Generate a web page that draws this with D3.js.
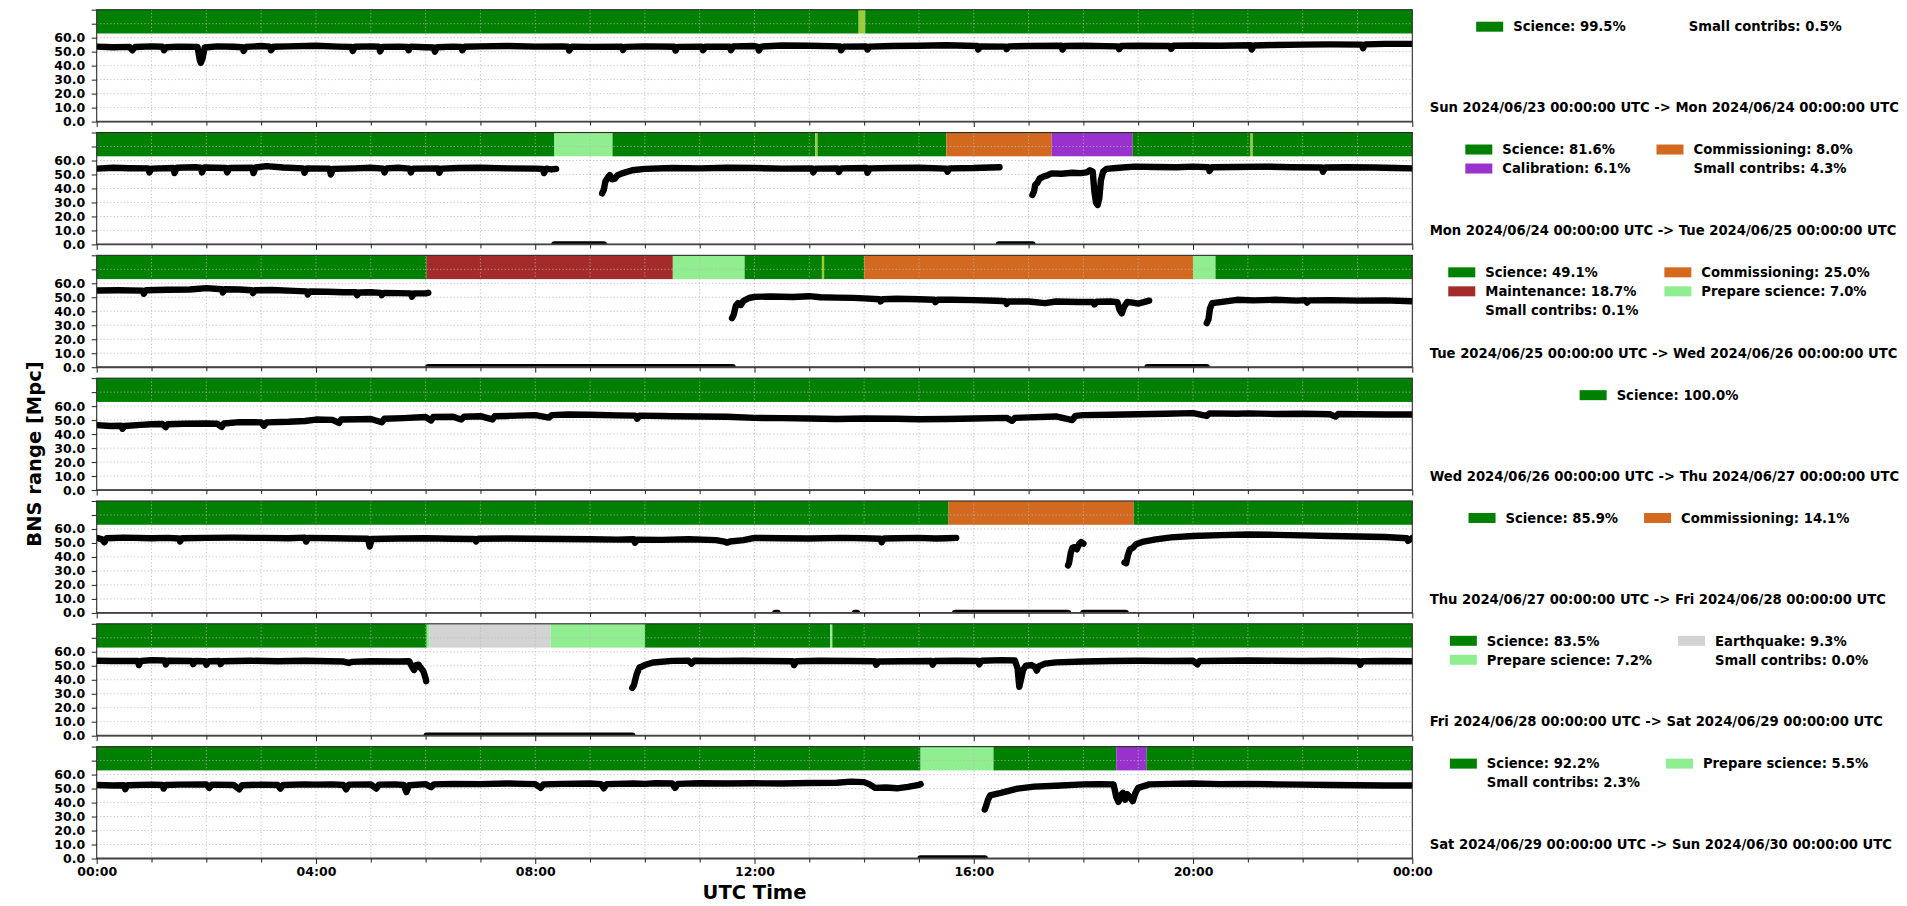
<!DOCTYPE html>
<html>
<head>
<meta charset="utf-8">
<script src="https://cdn.jsdelivr.net/npm/d3@7"></script>
<style>
  html, body { margin: 0; padding: 0; background: #fff; }
  svg text { font-family: "DejaVu Sans", sans-serif; font-weight: bold; fill: #000; }
</style>
</head>
<body>
<svg id="chart" width="1907" height="906"></svg>
<script>
// ---- Day labels -------------------------------------------------------------
const dayLabels = [
  "Sun 2024/06/23 00:00:00 UTC -> Mon 2024/06/24 00:00:00 UTC",
  "Mon 2024/06/24 00:00:00 UTC -> Tue 2024/06/25 00:00:00 UTC",
  "Tue 2024/06/25 00:00:00 UTC -> Wed 2024/06/26 00:00:00 UTC",
  "Wed 2024/06/26 00:00:00 UTC -> Thu 2024/06/27 00:00:00 UTC",
  "Thu 2024/06/27 00:00:00 UTC -> Fri 2024/06/28 00:00:00 UTC",
  "Fri 2024/06/28 00:00:00 UTC -> Sat 2024/06/29 00:00:00 UTC",
  "Sat 2024/06/29 00:00:00 UTC -> Sun 2024/06/30 00:00:00 UTC"
];

// ---- Axis ticks -------------------------------------------------------------
const yTicks = [0, 10, 20, 30, 40, 50, 60, 70, 80];
const yTickLabels = ["0.0", "10.0", "20.0", "30.0", "40.0", "50.0", "60.0", "", ""];
const xTickHours = d3.range(0, 25, 1);
const xTickLabels = ["00:00", "04:00", "08:00", "12:00", "16:00", "20:00", "00:00"];

// ---- Observing states -------------------------------------------------------
const stateNames  = ["Science", "Commissioning", "Calibration", "Maintenance", "Prepare science", "Earthquake", "Small"];
const stateColors = ["#008000", "#d2691e", "#9932cc", "#a52a2a", "#90ee90", "#d3d3d3", "#9acd32"];

// state segments per day: [start hour, end hour, state]
const states_d1 = [[0,13.9,"Science"],[13.9,14.02,"Small"],[14.02,24,"Science"]];
const states_d2 = [[0,8.35,"Science"],[8.35,9.41,"Prepare science"],[9.41,13.11,"Science"],[13.11,13.15,"Small"],
  [13.15,15.5,"Science"],[15.5,17.42,"Commissioning"],[17.42,18.9,"Calibration"],[18.9,21.05,"Science"],
  [21.05,21.09,"Small"],[21.09,24,"Science"]];
const states_d3 = [[0,6.02,"Science"],[6.02,10.51,"Maintenance"],[10.51,11.82,"Prepare science"],[11.82,13.23,"Science"],
  [13.23,13.27,"Small"],[13.27,14.0,"Science"],[14.0,20.0,"Commissioning"],[20.0,20.41,"Prepare science"],[20.41,24,"Science"]];
const states_d4 = [[0,24,"Science"]];
const states_d5 = [[0,15.54,"Science"],[15.54,18.92,"Commissioning"],[18.92,24,"Science"]];
const states_d6 = [[0,6.02,"Science"],[6.02,6.07,"Prepare science"],[6.07,8.28,"Earthquake"],[8.28,10.0,"Prepare science"],
  [10.0,13.38,"Science"],[13.38,13.42,"Prepare science"],[13.42,24,"Science"]];
const states_d7 = [[0,15.03,"Science"],[15.03,16.36,"Prepare science"],[16.36,18.6,"Science"],[18.6,19.15,"Calibration"],[19.15,24,"Science"]];

// ---- Legend entries per day: [label, percent, state or null] ----------------
const legend_d1 = [["Science",99.5,"Science"],["Small contribs",0.5,null]];
const legend_d2 = [["Science",81.6,"Science"],["Commissioning",8.0,"Commissioning"],["Calibration",6.1,"Calibration"],["Small contribs",4.3,null]];
const legend_d3 = [["Science",49.1,"Science"],["Commissioning",25.0,"Commissioning"],["Maintenance",18.7,"Maintenance"],["Prepare science",7.0,"Prepare science"],["Small contribs",0.1,null]];
const legend_d4 = [["Science",100.0,"Science"]];
const legend_d5 = [["Science",85.9,"Science"],["Commissioning",14.1,"Commissioning"]];
const legend_d6 = [["Science",83.5,"Science"],["Earthquake",9.3,"Earthquake"],["Prepare science",7.2,"Prepare science"],["Small contribs",0.0,null]];
const legend_d7 = [["Science",92.2,"Science"],["Prepare science",5.5,"Prepare science"],["Small contribs",2.3,null]];

// ---- BNS range [Mpc] per day: list of contiguous segments of [hour, value] --
const range_d1 = [
  [[0,53.6],[0.3,53.2],[0.6,53.4],[0.65,51],[0.7,53.3],[1.0,53.8],[1.2,53.5],[1.23,51],[1.27,53.2],[1.5,53.6],[1.84,53.4],[1.88,44],[1.9,42],[1.93,45],[1.97,53],
   [2.2,53.8],[2.5,53.5],[2.66,53.2],[2.68,50.5],[2.72,53.4],[3.0,54],[3.16,53.6],[3.18,51],[3.22,53.5],[3.5,53.8],[4.0,54.2],[4.4,53.6],[4.65,53.4],[4.67,50.5],[4.71,53.5],
   [5.0,53.8],[5.15,53.6],[5.17,50.2],[5.21,53.4],[5.5,53.6],[5.67,53.4],[5.69,51],[5.73,53.6],[6.0,53.2],[6.15,53],[6.17,50],[6.21,53.2],[6.5,53.6],[6.65,53.4],[6.67,51],[6.71,53.5],
   [7.0,53.8],[7.5,54],[8.0,53.6],[8.5,53.8],[8.6,53.6],[8.62,50.8],[8.66,53.6],[9.0,53.4],[9.58,53.5],[9.6,51.2],[9.64,53.4],[10.0,53.8],[10.54,53.5],[10.56,50.8],[10.6,53.4],
   [11.04,53.6],[11.06,51],[11.1,53.5],[11.55,53.6],[11.57,51],[11.61,53.8],[12.0,54],[12.06,53.4],[12.08,50.8],[12.12,53.6],[12.5,54.4],[13.0,54.2],[13.56,53.8],[13.58,51],[13.62,53.6],
   [14.04,53.8],[14.06,51.5],[14.1,53.6],[14.5,54],[15.0,54.2],[15.5,54.6],[16.06,54],[16.08,51.5],[16.12,53.8],[16.58,53.6],[16.6,51.8],[16.64,53.8],[17.0,54],[17.6,54.2],[17.62,51.5],[17.66,54],
   [18.0,54.2],[18.63,53.8],[18.65,51.8],[18.69,54],[19.0,54.2],[19.58,54],[19.6,52],[19.64,54.2],[20.0,54.4],[20.5,54.2],[21.05,54.6],[21.07,51.5],[21.11,54.4],[21.5,54.8],[22.0,55],
   [22.5,55.2],[23.08,55],[23.1,52.5],[23.14,55.2],[23.5,55.6],[24,55.6]]
];
const range_d2 = [
  [[0,54.2],[0.3,54.8],[0.6,54.5],[0.94,54.4],[0.96,51.5],[1.0,54.2],[1.4,54.6],[1.42,51],[1.46,54.8],[1.8,55.2],[1.9,54.8],[1.92,51.5],[1.96,55],[2.36,54.6],[2.38,51.5],[2.42,54.6],
   [2.84,54.8],[2.86,51],[2.9,55],[3.1,56],[3.4,55],[3.77,54.4],[3.79,51.2],[3.83,54.4],[4.25,54.2],[4.27,50],[4.31,54],[4.7,54.4],[5.0,54.8],[5.23,54.2],[5.25,51.5],[5.29,54.4],
   [5.5,54.8],[5.71,54.2],[5.73,51.5],[5.77,54.2],[6.23,54.4],[6.25,51.2],[6.29,54.2],[6.6,54.6],[7.0,54.8],[7.5,54.4],[8.0,54.2],[8.14,54],[8.16,51],[8.2,54.2],[8.3,53.6],[8.38,54]],
  [[8.35,0],[9.25,0]],
  [[9.22,36.5],[9.25,39],[9.28,45],[9.32,47.5],[9.36,49.6],[9.4,46.5],[9.45,47],[9.5,49.5],[9.6,51],[9.77,53],[10,54],[10.5,54.6],[11,54.4],[11.5,54.8],[12.0,54.6],[12.5,54.2],
   [13.05,54.4],[13.07,51.5],[13.11,54.2],[13.52,54.4],[13.54,51.8],[13.58,54.4],[14.04,54.6],[14.06,51.2],[14.1,54.4],[14.5,54.6],[15.0,54.8],[15.5,54.2],[15.52,52],[15.56,54.4],
   [16.0,54.6],[16.3,55],[16.47,55.2]],
  [[16.46,0],[17.07,0]],
  [[17.07,35.3],[17.1,38],[17.12,42.5],[17.16,44],[17.2,47],[17.27,48.5],[17.35,49.5],[17.42,50.8],[17.6,50.5],[17.8,51.2],[17.95,51],[18.06,51.5],[18.12,53],[18.17,52],
   [18.2,38],[18.23,30],[18.26,28.2],[18.29,33],[18.32,46],[18.36,52],[18.42,54],[18.6,54.6],[18.93,55.6],[19.3,55.4],[19.7,55.2],[20.0,55.6],[20.28,55.2],[20.3,52.5],[20.34,55.2],
   [20.8,55.4],[21.3,55.6],[21.8,55.2],[22.35,55],[22.37,52],[22.41,55],[22.8,55.2],[23.3,55],[23.7,54.6],[24,54.4]]
];
const range_d3 = [
  [[0,54.9],[0.4,55],[0.84,54.8],[0.86,52.5],[0.9,55],[1.3,55.4],[1.7,55.6],[2.0,56.6],[2.28,55.8],[2.3,53.5],[2.34,55.8],[2.6,55.6],[2.83,55],[2.85,53],[2.89,55],[3.2,55.2],
   [3.6,54.6],[3.83,54.2],[3.85,52],[3.89,54.2],[4.2,54],[4.5,53.6],[4.73,53.6],[4.75,51.5],[4.79,53.4],[5.0,53.6],[5.18,53.2],[5.2,51.5],[5.24,53.2],[5.5,53],[5.73,52.8],[5.75,50.5],
   [5.79,52.8],[6.0,52.8],[6.05,53.2]],
  [[6.05,0],[11.6,0]],
  [[11.59,35.1],[11.62,37.5],[11.66,44],[11.7,45.8],[11.75,44.5],[11.8,47.5],[11.9,49.5],[12.0,50.3],[12.3,50.6],[12.7,50.2],[13.0,50.8],[13.2,50],[13.5,49.8],[13.8,49.6],[14.0,49.2],
   [14.28,48.6],[14.3,47],[14.34,48.6],[14.6,49],[15.0,48.6],[15.28,48.2],[15.3,46.5],[15.34,48.2],[15.6,48.2],[16.0,48],[16.4,47.5],[16.58,47.2],[16.6,45.2],[16.64,47],[17.0,47],
   [17.3,45.8],[17.5,47],[17.9,46.6],[18.18,46.6],[18.2,45],[18.24,46.8],[18.5,47],[18.62,46.5],[18.66,41],[18.7,38.5],[18.74,43],[18.8,46.6],[18.9,46.2],[19.0,45.5],[19.1,46.5],[19.2,47.6]],
  [[19.17,0],[20.25,0]],
  [[20.25,31.5],[20.28,34],[20.31,42],[20.35,45.8],[20.5,46.6],[20.8,48.2],[21.1,47.8],[21.5,48.2],[21.9,47.6],[22.05,48],[22.08,46.2],[22.12,47.8],[22.5,48],[23.0,47.6],[23.5,47.8],[24,47.2]]
];
const range_d4 = [
  [[0,46.4],[0.25,45.8],[0.45,46],[0.47,43.8],[0.51,45.8],[0.8,46.6],[1.0,47],[1.2,47.2],[1.26,45],[1.3,47],[1.6,47.4],[2.0,47.6],[2.2,47.4],[2.28,45.2],[2.32,47.6],[2.6,48.6],
   [3.0,48.4],[3.05,46],[3.1,48.4],[3.5,48.8],[3.8,49.4],[4.0,50.4],[4.3,50.2],[4.42,48],[4.46,50.4],[4.8,50.6],[5.0,50.8],[5.2,48.5],[5.25,51],[5.6,51.4],[6.0,52.2],[6.1,49.8],
   [6.14,52.2],[6.5,52.4],[6.65,50.5],[6.7,52.4],[7.0,52.8],[7.22,50.5],[7.26,52.8],[7.5,53],[8.0,53.6],[8.25,51.8],[8.3,53.6],[8.6,54],[9.0,53.8],[9.5,53.4],[9.82,53.2],[9.86,51],
   [9.9,53.2],[10.3,53],[10.5,52.8],[11.0,52.6],[11.5,52.4],[12.0,51.6],[12.5,51.4],[13.0,51.2],[13.5,50.8],[14.0,51.2],[14.6,51],[15.0,50.6],[15.5,50.8],[16.0,51.2],[16.6,51.6],
   [16.7,49.5],[16.75,51.6],[17.0,52],[17.5,52.6],[17.8,50],[17.85,53],[18.0,53.6],[18.5,53.8],[19.0,54.2],[19.5,54.6],[20.0,55],[20.25,53],[20.3,54.8],[20.8,54.6],[21.0,54.8],
   [21.5,54.4],[22.0,54.6],[22.5,54.2],[22.6,52.5],[22.65,54.4],[23.0,54.2],[23.5,54],[24,54]]
];
const range_d5 = [
  [[0,53.6],[0.1,52.6],[0.14,50.5],[0.18,53.4],[0.5,53.8],[1.0,53.4],[1.3,53.6],[1.5,53.2],[1.52,51],[1.56,53.4],[2.0,53.6],[2.5,53.8],[3.0,53.6],[3.5,53.4],[3.8,53.8],[3.82,51],
   [3.86,53.6],[4.3,53.4],[4.6,53.2],[4.95,53],[4.98,47.5],[5.02,52.8],[5.5,53.2],[6.0,53.4],[6.5,53],[6.9,52.8],[6.92,51],[6.96,53],[7.5,53.2],[8.0,53],[8.5,52.8],[9.0,52.6],
   [9.5,52.4],[9.8,52.6],[9.82,50.2],[9.86,52.4],[10.3,52.2],[10.8,52.6],[11.3,52],[11.45,51],[11.5,50.2],[11.55,51],[11.8,52],[12.0,53.6],[12.5,53.4],[13.0,53.2],[13.6,53.6],
   [14.0,53.4],[14.3,53],[14.32,50.5],[14.36,53.2],[14.6,53.4],[15.0,53.6],[15.3,53.2],[15.5,53.4],[15.68,53.6]],
  [[12.38,0],[12.42,0]],
  [[13.83,0],[13.87,0]],
  [[15.66,0],[17.72,0]],
  [[17.72,33.9],[17.74,36],[17.77,43],[17.8,46.5],[17.84,47],[17.88,45.5],[17.92,49],[17.96,50.6],[18.0,49.5]],
  [[18.0,0],[18.77,0]],
  [[18.75,36],[18.78,35.5],[18.81,41],[18.85,45.6],[18.9,46.4],[18.96,49],[19.1,51],[19.32,52.5],[19.6,54],[20.0,55],[20.5,55.6],[21.0,56],[21.5,55.8],[22.0,55.4],[22.5,55],
   [23.0,54.6],[23.5,54.2],[23.9,53.4],[23.92,51.5],[24,53.6]]
];
const range_d6 = [
  [[0,53.6],[0.3,53.4],[0.75,53.4],[0.77,50.5],[0.81,53.4],[1.0,54],[1.24,53.8],[1.26,51],[1.3,53.6],[1.74,53.4],[1.76,51.2],[1.8,53.4],[1.98,53.2],[2.0,50.8],[2.04,53.2],
   [2.24,53.4],[2.26,51.2],[2.3,53.2],[2.8,53.6],[3.3,53.2],[3.8,53.6],[4.0,53.4],[4.5,53],[4.6,52],[4.65,52.8],[5.0,53.2],[5.5,53],[5.7,53.2],[5.75,49.5],[5.79,47],[5.83,50.5],
   [5.87,50.8],[5.92,48],[5.96,46],[6.0,41],[6.01,39]],
  [[6.02,0],[9.77,0]],
  [[9.77,34.2],[9.8,36],[9.85,43.9],[9.9,48.7],[9.95,49.5],[10.0,50.5],[10.15,52.3],[10.5,53.5],[10.8,53.6],[10.85,51.5],[10.9,53.6],[11.3,53.4],[11.8,53.6],[12.2,53.4],[12.7,53.2],
   [12.72,50.5],[12.76,53.2],[13.2,53.6],[13.7,53.4],[14.2,53.2],[14.22,50.8],[14.26,53],[14.7,53.2],[15.23,53.4],[15.25,50.8],[15.29,53.4],[15.7,53.6],[16.08,53.4],[16.1,51],
   [16.14,53.6],[16.5,54],[16.75,53.8],[16.8,48],[16.83,35],[16.86,40],[16.9,47],[16.95,50],[17.05,50.5],[17.12,49],[17.15,46.5],[17.18,49.5],[17.3,51.5],[17.5,52.4],[18.0,53],
   [18.5,53.4],[19.0,53.6],[19.5,53.4],[20.0,53.6],[20.08,51],[20.12,53.4],[20.6,53.6],[21.0,53.8],[21.5,53.6],[22.0,53.4],[22.5,53.6],[23.03,53.2],[23.05,50.8],[23.09,53.2],
   [23.5,53.4],[24,53.2]]
];
const range_d7 = [
  [[0,52.6],[0.3,52.2],[0.5,52.4],[0.52,49.5],[0.56,52.4],[1.0,52.8],[1.2,52.6],[1.22,50],[1.26,52.6],[1.5,52.8],[2.0,53],[2.05,50.5],[2.1,52.8],[2.5,52.6],[2.6,49.5],[2.65,52.4],
   [3.0,52.8],[3.3,52.6],[3.35,50],[3.4,52.6],[3.8,53],[4.0,52.8],[4.3,53],[4.5,52.6],[4.55,49.5],[4.6,52.8],[5.0,53],[5.1,50],[5.15,52.8],[5.45,53],[5.6,52.6],[5.65,47.5],
   [5.7,52.4],[6.0,53.2],[6.1,51],[6.15,53],[6.5,53.4],[7.0,53.2],[7.5,53.6],[7.8,53.4],[8.0,53.2],[8.1,50.5],[8.15,53],[8.5,53.4],[9.0,53.6],[9.2,53.2],[9.25,50.2],[9.3,53.2],
   [9.8,53.6],[10.0,53.4],[10.2,53.8],[10.5,53.6],[10.55,50.5],[10.6,53.4],[11.0,53.8],[11.5,53.6],[12.0,53.8],[12.5,53.6],[13.0,54],[13.5,54.2],[13.76,55],[14.0,54.6],[14.1,53],
   [14.2,50.5],[14.4,50.8],[14.6,50.2],[14.8,51.2],[15.0,52.6],[15.03,53.2]],
  [[15.03,0],[16.2,0]],
  [[16.2,35],[16.22,37],[16.26,42],[16.3,45.2],[16.45,46.5],[16.6,48],[16.8,50],[17.1,51.4],[17.5,52],[18.0,53],[18.3,53.2],[18.55,53],[18.6,44],[18.64,40.5],[18.68,45],
   [18.72,47],[18.76,42],[18.8,46],[18.85,44],[18.9,41],[18.95,47],[19.0,50.5],[19.2,53],[19.6,53.4],[20.0,53.6],[20.5,53.2],[21.0,53.4],[21.5,53],[22.0,52.8],[22.5,52.6],
   [23.0,52.4],[23.5,52.2],[24,52.2]]
];

// ---- Assemble per-day tables ------------------------------------------------
const days = [
  {label: dayLabels[0], states: states_d1, legend: legend_d1, range: range_d1},
  {label: dayLabels[1], states: states_d2, legend: legend_d2, range: range_d2},
  {label: dayLabels[2], states: states_d3, legend: legend_d3, range: range_d3},
  {label: dayLabels[3], states: states_d4, legend: legend_d4, range: range_d4},
  {label: dayLabels[4], states: states_d5, legend: legend_d5, range: range_d5},
  {label: dayLabels[5], states: states_d6, legend: legend_d6, range: range_d6},
  {label: dayLabels[6], states: states_d7, legend: legend_d7, range: range_d7}
];

// ---- Layout -----------------------------------------------------------------
const plotLeft = 96.7, plotRight = 1412.3;
const firstTop = 9.7, panelStep = 122.82, panelH = 111.9;
const stateBand = [63, 80];
const legendCenterX = 1659;

const color = d3.scaleOrdinal(stateNames, stateColors);
const x = d3.scaleLinear([0, 24], [plotLeft, plotRight]);
const svg = d3.select("#chart");

days.forEach((day, i) => {
  const top = firstTop + i * panelStep;
  const bottom = top + panelH;
  const y = d3.scaleLinear([0, 80], [bottom, top]);
  const g = svg.append("g");

  const clipId = "clip" + i;
  svg.append("clipPath").attr("id", clipId)
    .append("rect").attr("x", plotLeft).attr("y", top).attr("width", plotRight - plotLeft).attr("height", panelH);

  // state band
  g.append("g").selectAll("rect").data(day.states).join("rect")
    .attr("x", d => x(d[0]))
    .attr("width", d => Math.max(0.8, x(d[1]) - x(d[0])))
    .attr("y", y(stateBand[1]))
    .attr("height", y(stateBand[0]) - y(stateBand[1]))
    .attr("fill", d => color(d[2]));

  // grid
  const grid = g.append("g").attr("stroke", "#b8b8b8").attr("stroke-width", 0.8)
    .attr("stroke-dasharray", "1.2,2.2");
  grid.selectAll("line.h").data(yTicks.slice(1, -1)).join("line").attr("class", "h")
    .attr("x1", plotLeft).attr("x2", plotRight).attr("y1", d => y(d)).attr("y2", d => y(d));
  grid.selectAll("line.v").data(xTickHours.slice(1, -1)).join("line").attr("class", "v")
    .attr("y1", top).attr("y2", bottom).attr("x1", d => x(d)).attr("x2", d => x(d));

  // range trace
  const line = d3.line().x(d => x(d[0])).y(d => y(d[1]));
  g.append("g").attr("clip-path", `url(#${clipId})`)
    .selectAll("path").data(day.range).join("path")
    .attr("d", line)
    .attr("fill", "none").attr("stroke", "#000").attr("stroke-width", 6.4)
    .attr("stroke-linejoin", "round").attr("stroke-linecap", "round");

  // frame
  g.append("rect").attr("x", plotLeft).attr("y", top).attr("width", plotRight - plotLeft).attr("height", panelH)
    .attr("fill", "none").attr("stroke", "#2a2a2a").attr("stroke-width", 1.1);
  g.append("line").attr("x1", plotLeft).attr("x2", plotRight).attr("y1", bottom).attr("y2", bottom)
    .attr("stroke", "#444").attr("stroke-width", 1.8);

  // y axis
  const yAxis = d3.axisLeft(y).tickValues(yTicks)
    .tickFormat((d, k) => yTickLabels[k]).tickSize(5).tickPadding(6.5);
  const ya = g.append("g").attr("transform", `translate(${plotLeft},0)`).call(yAxis);
  ya.select(".domain").remove();
  ya.selectAll("line").attr("stroke", "#222").attr("stroke-width", 1);
  ya.selectAll("text").attr("font-size", 12.5).attr("font-family", "DejaVu Sans").attr("font-weight", "bold");

  // x axis
  const isLast = i === days.length - 1;
  const xAxis = d3.axisBottom(x).tickValues(xTickHours)
    .tickSizeInner(0).tickSizeOuter(0)
    .tickFormat(d => (isLast && d % 4 === 0) ? xTickLabels[d / 4] : "").tickPadding(9);
  const xa = g.append("g").attr("transform", `translate(0,${bottom})`).call(xAxis);
  xa.select(".domain").remove();
  xa.selectAll(".tick line").attr("y2", d => d % 4 === 0 ? 5.5 : 4).attr("stroke", "#222").attr("stroke-width", 1);
  xa.selectAll("text").attr("font-size", 12.5).attr("font-family", "DejaVu Sans").attr("font-weight", "bold");

  // legend (two columns, filled row by row)
  const leg = svg.append("g");
  const fs = 13.2, handleW = 27, handleH = 10, textPad = 10, colGap = 26, rowH = 19;
  const items = day.legend.map((d, k) => {
    const t = leg.append("text").attr("font-size", fs).attr("dy", "0.36em")
      .text(`${d[0]}: ${d[1].toFixed(1)}%`);
    return {d, k, t, w: t.node().getComputedTextLength()};
  });
  const ncol = Math.min(2, items.length);
  const colW = d3.range(ncol).map(c => handleW + textPad + d3.max(items.filter(it => it.k % ncol === c), it => it.w));
  const totalW = d3.sum(colW) + colGap * (ncol - 1);
  const left0 = legendCenterX - totalW / 2;
  items.forEach(it => {
    const c = it.k % ncol, r = Math.floor(it.k / ncol);
    const cx = left0 + (c === 0 ? 0 : colW[0] + colGap);
    const cy = top + 17 + r * rowH;
    if (it.d[2]) {
      leg.append("rect").attr("x", cx).attr("y", cy - handleH / 2).attr("width", handleW).attr("height", handleH)
        .attr("fill", color(it.d[2]));
    }
    it.t.attr("x", cx + handleW + textPad).attr("y", cy);
  });

  // day span caption
  svg.append("text").attr("x", 1429.7).attr("y", bottom - 14).attr("dy", "0.36em")
    .attr("font-size", fs).text(day.label);
});

// axis titles
svg.append("text").attr("transform", "translate(34,454) rotate(-90)")
  .attr("text-anchor", "middle").attr("dy", "0.36em").attr("font-size", 19.5).text("BNS range [Mpc]");
svg.append("text").attr("x", (plotLeft + plotRight) / 2).attr("y", 892)
  .attr("text-anchor", "middle").attr("dy", "0.36em").attr("font-size", 19.5).text("UTC Time");
</script>
</body>
</html>
